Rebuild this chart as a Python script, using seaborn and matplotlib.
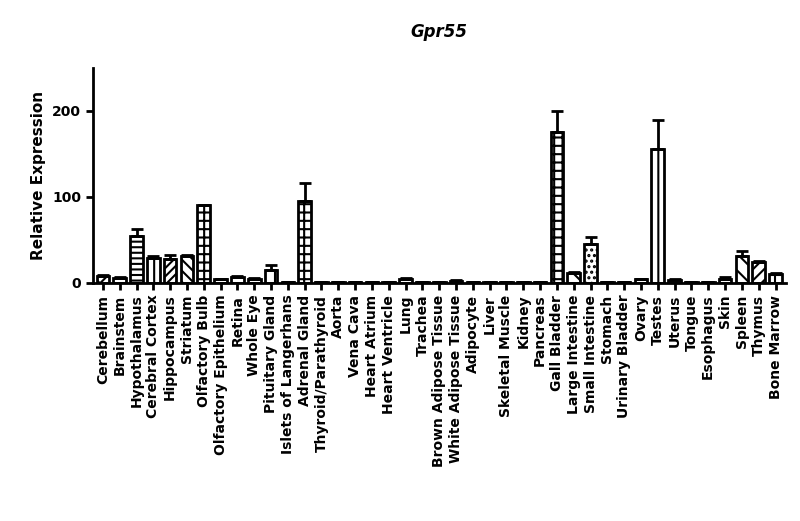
import matplotlib
matplotlib.use("Agg")
import matplotlib.pyplot as plt
import seaborn as sns
import pandas as pd

tissues = ["Cerebellum", "Brainstem", "Hypothalamus", "Cerebral Cortex", "Hippocampus",
           "Striatum", "Olfactory Bulb", "Olfactory Epithelium", "Retina", "Whole Eye",
           "Pituitary Gland", "Islets of Langerhans", "Adrenal Gland", "Thyroid/Parathyroid",
           "Aorta", "Vena Cava", "Heart Atrium", "Heart Ventricle", "Lung", "Trachea",
           "Brown Adipose Tissue", "White Adipose Tissue", "Adipocyte", "Liver",
           "Skeletal Muscle", "Kidney", "Pancreas", "Gall Bladder", "Large Intestine",
           "Small Intestine", "Stomach", "Urinary Bladder", "Ovary", "Testes", "Uterus",
           "Tongue", "Esophagus", "Skin", "Spleen", "Thymus", "Bone Marrow"]
expression = [8, 6, 55, 29, 28, 31, 90, 4, 7, 4, 15, 1, 95, 0.5, 0.5, 0.5, 0.5, 0.5, 5, 0.5,
              0.5, 2, 0.5, 0.5, 0.5, 0.5, 0.5, 175, 12, 45, 0.5, 0.5, 4, 156, 3,
              0.5, 0.5, 4, 31, 24, 10]
sem = [1, 1, 8, 2, 4, 1, 1, 1, 1, 2, 6, 0.5, 21, 0, 0, 0, 0, 0, 1, 0,
       0, 1, 0, 0, 0, 0, 0, 25, 1, 8, 0, 0, 1, 33, 2,
       0, 0, 3, 6, 1, 2]
hatches = ["xx", "", "---", "||", "////", "\\\\\\", "++", "", "", "", "|", "", "++", "",
           "", "", "", "", "", "", "", "", "", "", "", "", "", "++", "x", "...", "", "",
           "", "|", "", "", "", "", "\\\\", "///", "+"]

df = pd.DataFrame({"Tissue": tissues, "Expression": expression})

sns.set_style("ticks")
plt.rcParams["hatch.linewidth"] = 1.5
plt.rcParams["text.color"] = "black"
plt.rcParams["axes.labelcolor"] = "black"
plt.rcParams["xtick.color"] = "black"
plt.rcParams["ytick.color"] = "black"
fig = plt.figure(figsize=(8, 5.21), dpi=100)
ax = fig.add_axes([0.116, 0.457, 0.866, 0.413])

sns.barplot(data=df, x="Tissue", y="Expression", color="white", edgecolor="black",
            linewidth=2, width=0.75, ax=ax)
for patch, h in zip(ax.patches, hatches):
    patch.set_hatch(h)
ax.errorbar(range(len(tissues)), expression, yerr=[[0] * len(sem), sem], fmt="none",
            ecolor="black", elinewidth=2, capsize=4, capthick=2)

ax.set_ylim(0, 250)
ax.set_xlim(-0.6, len(tissues) - 0.4)
ax.set_yticks([0, 100, 200])
ax.set_xlabel("")
ax.set_ylabel("Relative Expression", fontsize=11, fontweight="bold")
ax.set_title("Gpr55", fontsize=12, fontweight="bold", style="italic", pad=22)
ax.tick_params(axis="x", rotation=90, labelsize=10, width=2, length=5)
ax.tick_params(axis="y", labelsize=10, width=2, length=5)
for lab in ax.get_xticklabels() + ax.get_yticklabels():
    lab.set_fontweight("bold")
for s in ["left", "bottom"]:
    ax.spines[s].set_linewidth(2)
    ax.spines[s].set_color("black")
sns.despine(ax=ax)

fig.savefig("out.png", dpi=100)
